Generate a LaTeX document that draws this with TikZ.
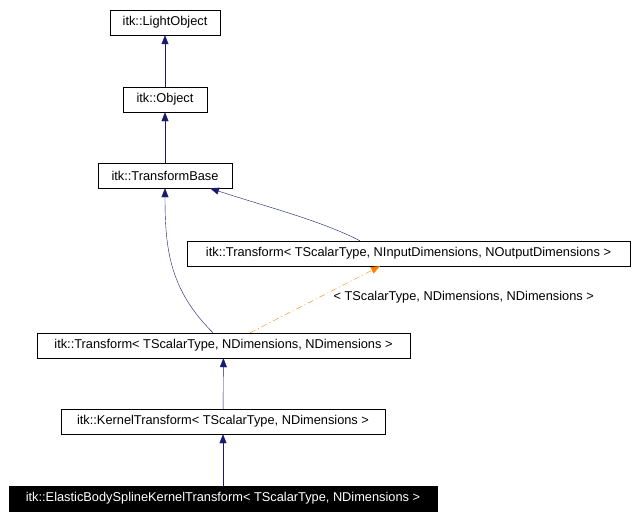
\documentclass[tikz,border=0pt]{standalone}
\usepackage{fontspec}
\setmainfont{Liberation Sans}
\usetikzlibrary{arrows.meta}
\begin{document}
\begin{tikzpicture}[x=1pt,y=-1pt,
  box/.style={draw=black,fill=white,inner sep=0pt,minimum height=25pt,font=\fontsize{12.8}{13}\selectfont},
  inh/.style={draw={rgb,255:red,25;green,25;blue,112},-{Triangle[length=9pt,width=7pt]}},
  tmpl/.style={draw=orange,dash pattern=on 6pt off 3pt on 1pt off 3pt,-{Triangle[length=9pt,width=7pt,fill=orange]}}]
\useasboundingbox (0,0) rectangle (636,519);
\node[box,minimum width=110pt] (lo) at (165,22.5) {itk::LightObject};
\node[box,minimum width=84pt] (ob) at (165,99.5) {itk::Object};
\node[box,minimum width=134pt] (tb) at (165,175.5) {itk::TransformBase};
\node[box,minimum width=443pt] (tg) at (408.5,253.5) {itk::Transform< TScalarType, NInputDimensions, NOutputDimensions >};
\node[box,minimum width=373pt] (tn) at (223.5,345.5) {itk::Transform< TScalarType, NDimensions, NDimensions >};
\node[box,minimum width=324pt] (kt) at (223,421.5) {itk::KernelTransform< TScalarType, NDimensions >};
\node[box,fill=black,text=white,minimum width=428pt] (eb) at (223,498.5) {itk::ElasticBodySplineKernelTransform< TScalarType, NDimensions >};
\draw[inh] (ob) -- (lo);
\draw[inh] (tb) -- (ob);
\draw[inh] (tg.north -| 360,0) .. controls (320,220) and (260,205) .. (tb.south -| 210,0);
\draw[inh] (tn.north -| 213,0) .. controls (170,290) and (165,250) .. (tb.south -| 165,0);
\draw[tmpl] (tn.north -| 250,0) -- (tg.south -| 380,0);
\node[font=\fontsize{12.8}{13}\selectfont,anchor=west] (lbl) at (330,297) {< TScalarType, NDimensions, NDimensions >};
\draw[inh] (kt) -- (tn);
\draw[inh] (eb) -- (kt);
\end{tikzpicture}
\end{document}
